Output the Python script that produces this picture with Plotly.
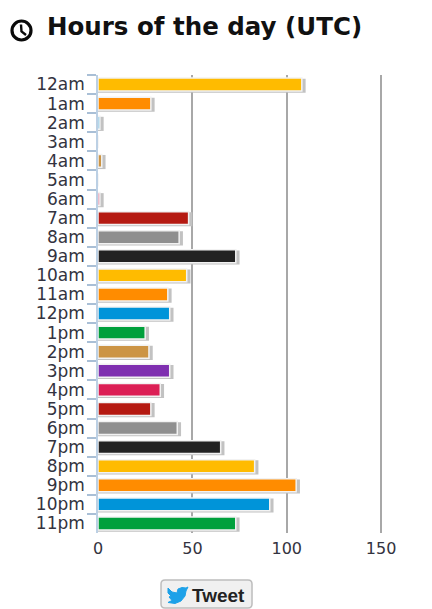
import plotly.graph_objects as go

hours = ["12am","1am","2am","3am","4am","5am","6am","7am","8am","9am","10am","11am",
         "12pm","1pm","2pm","3pm","4pm","5pm","6pm","7pm","8pm","9pm","10pm","11pm"]
counts = [108,28,1,0,2,0,1,48,43,73,47,37,38,25,27,38,33,28,42,65,83,105,91,73]
palette = ["#ffbb00","#ff8c00","#0094d9","#00a03c","#cc9444","#7f2fb0","#dc1f55","#b51a12","#8f8f8f","#222222"]
bar_colors = [palette[i % len(palette)] for i in range(len(hours))]
tick_values = [0,50,100,150]

W, H = 432, 609
L, R, T, B = 98, 383, 75, 533
px = lambda x: (x - L) / (R - L)
py = lambda y: (B - y) / (B - T)

fig = go.Figure()
fig.add_bar(y=hours, x=[c + 2 if c else None for c in counts], orientation="h", width=0.74, offset=-0.31,
            marker=dict(color="#c2c2c2", line_width=0), hoverinfo="skip", showlegend=False)
fig.add_bar(y=hours, x=counts, orientation="h", width=0.68, offset=-0.34,
            marker=dict(color=bar_colors, line=dict(color="#f2f2f2", width=1.5)), showlegend=False)

def pth(points, close=True):
    s = ""
    for i, (x, y) in enumerate(points):
        s += ("M" if i == 0 else "L") + f"{px(x):.4f},{py(y):.4f} "
    return s + ("Z" if close else "")

def rounded(x0, y0, x1, y1, r):
    p = lambda x, y: f"{px(x):.4f},{py(y):.4f}"
    return (f"M{p(x0+r,y0)} L{p(x1-r,y0)} Q{p(x1,y0)} {p(x1,y0+r)} L{p(x1,y1-r)} Q{p(x1,y1)} {p(x1-r,y1)} "
            f"L{p(x0+r,y1)} Q{p(x0,y1)} {p(x0,y1-r)} L{p(x0,y0+r)} Q{p(x0,y0)} {p(x0+r,y0)} Z")

shapes = [
    dict(type="circle", xref="paper", yref="paper", x0=px(12), x1=px(31), y0=py(40), y1=py(21),
         line=dict(color="#0a0a0a", width=3.2)),
    dict(type="path", xref="paper", yref="paper", path=pth([(21,24.5),(21.5,31.5),(26,35)], False),
         line=dict(color="#0a0a0a", width=2.4)),
    dict(type="path", xref="paper", yref="paper", path=rounded(161, 580, 252, 608, 4),
         fillcolor="#f0f0f0", line=dict(color="#bdbdbd", width=1.5)),
    dict(type="path", xref="paper", yref="paper", fillcolor="#1da1e8", line=dict(color="#1da1e8", width=1),
         path=pth([(168,588),(172,592),(177,593),(178,589),(182,587.5),(186,588),(188,587),(186,591),
                   (185,596),(181,601),(175,603.5),(168,602.5),(172,600.5),(169,597),(171,596),(168,593)])),
]

fig.add_annotation(xref="paper", yref="paper", x=px(45), y=py(27), xanchor="left", yanchor="middle",
                   text="<b>Hours of the day (UTC)</b>", showarrow=False,
                   font=dict(family="DejaVu Sans", size=24.5, color="#111111"))
fig.add_annotation(xref="paper", yref="paper", x=px(190), y=py(595), xanchor="left", yanchor="middle",
                   text="<b>Tweet</b>", showarrow=False,
                   font=dict(family="Liberation Sans", size=19, color="#222222"))

fig.update_layout(
    width=W, height=H, autosize=False, margin=dict(l=L, r=W-R, t=T, b=H-B, pad=0),
    paper_bgcolor="white", plot_bgcolor="white", barmode="overlay", shapes=shapes,
    font=dict(family="DejaVu Sans", size=15, color="#333333"),
    xaxis=dict(range=[0,151], tickvals=tick_values, showgrid=True, gridcolor="#a8a8a8", gridwidth=1.5,
               zeroline=False, showline=False, ticks="", tickfont=dict(size=16, color="#333340"), ticklabelstandoff=4),
    yaxis=dict(type="category", categoryorder="array", categoryarray=hours, range=[23.5,-0.5],
               tickmode="linear", tick0=0, dtick=1,
               tickson="boundaries", ticks="outside", ticklen=9, tickcolor="#a9bfd6", tickwidth=1.5,
               showline=True, linecolor="#bcd0e4", linewidth=1.5, showgrid=False, zeroline=False,
               tickfont=dict(size=17, color="#333340"), ticklabelstandoff=8),
)
fig.write_html("out.html", config=dict(displayModeBar=False),
               post_script="document.body.style.margin='0';")
